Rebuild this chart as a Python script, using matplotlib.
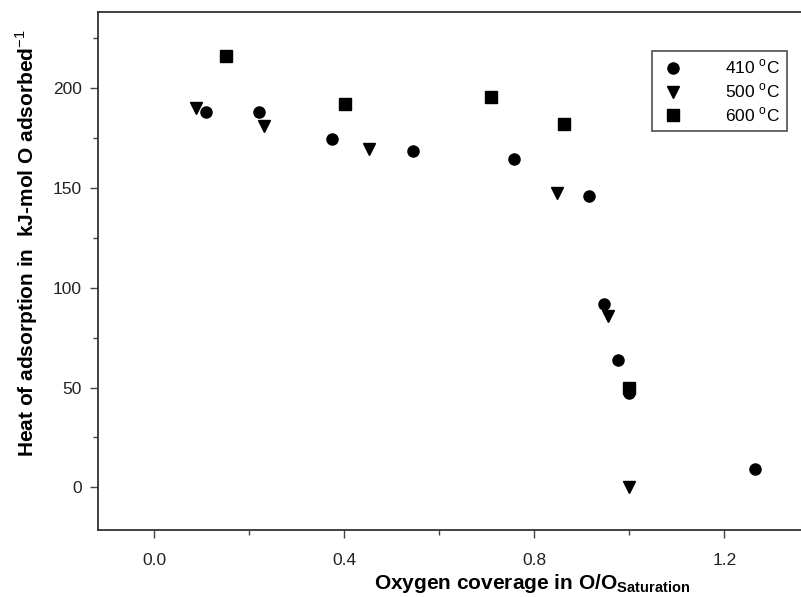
import matplotlib
matplotlib.use("Agg")
import matplotlib.pyplot as plt
from matplotlib.ticker import MultipleLocator

plt.rcParams["font.family"] = ["Liberation Sans", "DejaVu Sans"]
plt.rcParams["mathtext.fontset"] = "custom"
plt.rcParams["mathtext.rm"] = "Liberation Sans"
plt.rcParams["mathtext.bf"] = "Liberation Sans:bold"

# coverage (O/O_sat) and heat of adsorption (kJ/mol O) for each temperature
x_410 = [0.108, 0.221, 0.373, 0.544, 0.756, 0.914, 0.947, 0.975, 0.998, 1.265]
y_410 = [187.8, 188.1, 174.3, 168.6, 164.3, 146.1, 91.9, 63.8, 47.1, 9.2]

x_500 = [0.088, 0.231, 0.451, 0.847, 0.954, 0.999]
y_500 = [189.8, 181.0, 169.3, 147.6, 85.8, 0.3]

x_600 = [0.152, 0.401, 0.708, 0.862, 0.998]
y_600 = [215.9, 192.0, 195.5, 182.1, 49.9]

labels = [r"410 $^\mathrm{o}$C", r"500 $^\mathrm{o}$C", r"600 $^\mathrm{o}$C"]

fig = plt.figure(figsize=(8.01, 5.97), dpi=100)
ax = fig.add_axes([0.122, 0.112, 0.878, 0.8675])

ax.plot(x_410, y_410, "o", color="black", markersize=8, label=labels[0])
ax.plot(x_500, y_500, "v", color="black", markersize=8.5, label=labels[1])
ax.plot(x_600, y_600, "s", color="black", markersize=8, label=labels[2])

ax.set_xlim(-0.119, 1.361)
ax.set_ylim(-21.4, 237.9)
ax.xaxis.set_major_locator(MultipleLocator(0.4))
ax.xaxis.set_minor_locator(MultipleLocator(0.2))
ax.yaxis.set_major_locator(MultipleLocator(50))
ax.yaxis.set_minor_locator(MultipleLocator(25))
ax.xaxis.set_major_formatter(plt.FuncFormatter(lambda v, p: f"{v:.1f}"))

for side in ["left", "bottom", "top"]:
    ax.spines[side].set_color("#333333")
    ax.spines[side].set_linewidth(1.3)
ax.spines["right"].set_visible(False)
ax.tick_params(which="major", length=5.8, width=1, color="#444444", labelsize=12.5, labelcolor="#222222")
ax.tick_params(which="minor", length=3.6, width=1, color="#444444")
ax.tick_params(axis="x", which="major", pad=11)
ax.tick_params(axis="y", which="major", pad=5.5)

ax.set_xlabel(r"Oxygen coverage in O/O$_\mathbf{Saturation}$", fontsize=15, fontweight="bold")
ax.set_ylabel(r"Heat of adsorption in  kJ-mol O adsorbed$^{-1}$", fontsize=15, fontweight="bold")
ax.xaxis.set_label_coords(0.6175, -0.08)
ax.yaxis.set_label_coords(-0.082, 0.554)

leg = ax.legend(loc="upper left", bbox_to_anchor=(0.788, 0.925), fontsize=12.5,
                frameon=True, fancybox=False, edgecolor="#333333",
                handletextpad=2.2, borderpad=0.4, labelspacing=0.3, handlelength=1.6,
                borderaxespad=0)
leg.get_frame().set_linewidth(1.3)

fig.savefig("out.png", dpi=100)
